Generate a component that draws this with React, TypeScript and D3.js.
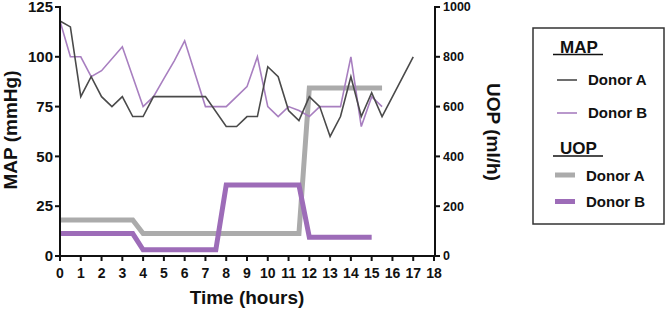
import React from "react";
import * as d3 from "d3";

// ---- data ----
const mapTimesA = [0, 0.5, 1, 1.5, 2, 2.5, 3, 3.5, 4, 4.5, 5, 5.5, 6, 6.5, 7, 8, 8.5, 9, 9.5, 10, 10.5, 11, 11.5, 12, 12.5, 13, 13.5, 14, 14.5, 15, 15.5, 17];
const mapDonorA = [118, 115, 80, 90, 80, 75, 80, 70, 70, 80, 80, 80, 80, 80, 80, 65, 65, 70, 70, 95, 90, 73, 68, 80, 75, 60, 70, 90, 70, 82, 70, 100];
const mapTimesB = [0, 0.5, 1, 1.5, 2, 3, 4, 4.5, 5, 5.5, 6, 7, 8, 8.5, 9, 9.5, 10, 10.5, 11, 11.5, 12, 12.5, 13, 13.5, 14, 14.5, 15, 15.5];
const mapDonorB = [118, 100, 100, 90, 93, 105, 75, 80, 89, 98, 108, 75, 75, 80, 85, 100, 75, 70, 75, 73, 70, 75, 75, 75, 100, 65, 80, 75];
const uopTimesA = [0, 3.5, 4, 11.5, 12, 15.5];
const uopDonorA = [145, 145, 90, 90, 675, 675];
const uopTimesB = [0, 3.5, 4, 7.5, 8, 11.5, 12, 15];
const uopDonorB = [90, 90, 25, 25, 285, 285, 75, 75];
const xTicks = d3.range(0, 19, 1);
const leftTicks = [0, 25, 50, 75, 100, 125];
const rightTicks = [0, 200, 400, 600, 800, 1000];

const FONT = "'Liberation Sans', Arial, Helvetica, sans-serif";
const C_MAP_A = "#4a4a4a";
const C_MAP_B = "#a87fc0";
const C_UOP_A = "#ababab";
const C_UOP_B = "#9d6cb8";

export default function App() {
  const x = d3.scaleLinear().domain([0, 18]).range([60, 434]);
  const yL = d3.scaleLinear().domain([0, 125]).range([256, 7]);
  const yR = d3.scaleLinear().domain([0, 1000]).range([256, 7]);

  const lineL = (ts: number[], vs: number[]) =>
    d3.line<number>().x((_, i) => x(ts[i])).y((v) => yL(v))(vs) || "";
  const lineR = (ts: number[], vs: number[]) =>
    d3.line<number>().x((_, i) => x(ts[i])).y((v) => yR(v))(vs) || "";

  return (
    <svg width={666} height={310} style={{ position: "absolute", left: 0, top: 0, background: "#fff" }} fontFamily={FONT}>
      {/* UOP lines */}
      <path d={lineR(uopTimesA, uopDonorA)} fill="none" stroke={C_UOP_A} strokeWidth={5} />
      <path d={lineR(uopTimesB, uopDonorB)} fill="none" stroke={C_UOP_B} strokeWidth={5} />
      {/* MAP lines */}
      <path d={lineL(mapTimesB, mapDonorB)} fill="none" stroke={C_MAP_B} strokeWidth={1.6} />
      <path d={lineL(mapTimesA, mapDonorA)} fill="none" stroke={C_MAP_A} strokeWidth={1.6} />

      {/* axes */}
      <g stroke="#111" strokeWidth={2}>
        <line x1={x(0)} x2={x(0)} y1={yL(125) - 1} y2={yL(0) + 1} />
        <line x1={x(0) - 1} x2={x(18) + 1} y1={yL(0)} y2={yL(0)} />
        <line x1={x(18) + 1} x2={x(18) + 1} y1={yR(1000) - 1} y2={yR(0) + 1} />
        {leftTicks.map((t) => (
          <line key={"lt" + t} x1={x(0) - 5} x2={x(0)} y1={yL(t)} y2={yL(t)} />
        ))}
        {rightTicks.map((t) => (
          <line key={"rt" + t} x1={x(18) + 1} x2={x(18) + 6} y1={yR(t)} y2={yR(t)} />
        ))}
        {xTicks.map((t) => (
          <line key={"xt" + t} x1={x(t)} x2={x(t)} y1={yL(0)} y2={yL(0) + 5} />
        ))}
      </g>
      <g fontWeight="bold" fill="#111">
        {leftTicks.map((t) => (
          <text key={"ll" + t} x={x(0) - 7} y={yL(t)} dy="0.35em" textAnchor="end" fontSize={15}>{t}</text>
        ))}
        {rightTicks.map((t) => (
          <text key={"rl" + t} x={x(18) + 9} y={yR(t)} dy="0.35em" textAnchor="start" fontSize={12.5}>{t}</text>
        ))}
        {xTicks.map((t) => (
          <text key={"xl" + t} x={x(t)} y={277.5} textAnchor="middle" fontSize={14}>{t}</text>
        ))}
        <text x={247} y={304} textAnchor="middle" fontSize={19}>Time (hours)</text>
        <text transform="translate(17,130) rotate(-90)" textAnchor="middle" fontSize={19}>MAP (mmHg)</text>
        <text transform="translate(487,132) rotate(90)" textAnchor="middle" fontSize={19}>UOP (ml/h)</text>
      </g>

      {/* legend */}
      <rect x={533} y={28} width={131} height={196} fill="none" stroke="#333" strokeWidth={1.5} />
      <g fontWeight="bold" fill="#111">
        <text x={560} y={52.5} fontSize={17}>MAP</text>
        <line x1={553} x2={603} y1={54.5} y2={54.5} stroke="#111" strokeWidth={1.5} />
        <line x1={557} x2={577} y1={80} y2={80} stroke={C_MAP_A} strokeWidth={1.6} />
        <text x={588} y={85} fontSize={15}>Donor A</text>
        <line x1={557} x2={577} y1={113} y2={113} stroke={C_MAP_B} strokeWidth={1.6} />
        <text x={588} y={118} fontSize={15}>Donor B</text>
        <text x={560} y={154} fontSize={17}>UOP</text>
        <line x1={553} x2={603} y1={156} y2={156} stroke="#111" strokeWidth={1.5} />
        <line x1={555} x2={575} y1={175} y2={175} stroke={C_UOP_A} strokeWidth={5} />
        <text x={586} y={181} fontSize={15}>Donor A</text>
        <line x1={555} x2={575} y1={201.5} y2={201.5} stroke={C_UOP_B} strokeWidth={5} />
        <text x={586} y={207} fontSize={15}>Donor B</text>
      </g>
    </svg>
  );
}
